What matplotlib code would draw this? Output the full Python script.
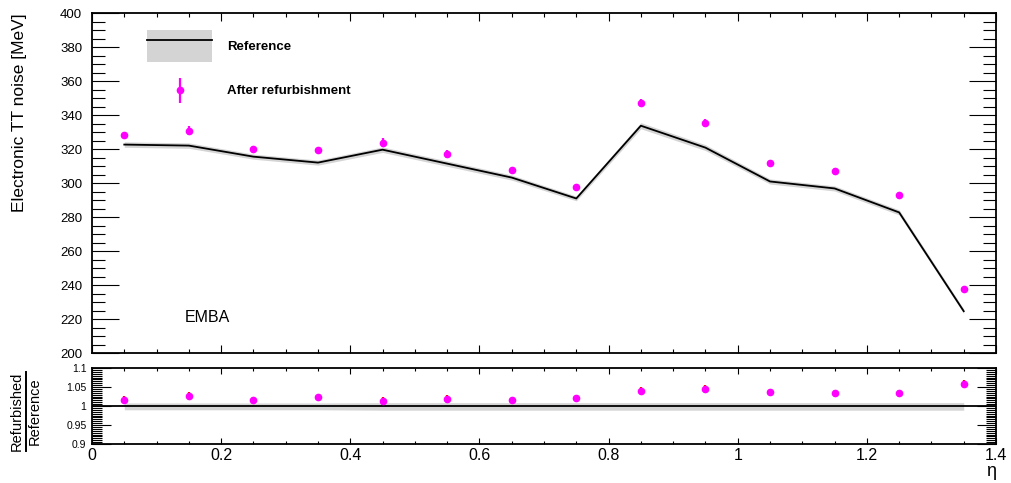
#!/usr/bin/env python3
"""Electronic TT noise vs eta: reference vs after refurbishment, with ratio panel."""
import numpy as np
import matplotlib
matplotlib.use("Agg")
import matplotlib.pyplot as plt
from matplotlib.ticker import MultipleLocator, FixedLocator
from matplotlib.patches import Patch
from matplotlib.lines import Line2D
from matplotlib.legend_handler import HandlerErrorbar

plt.rcParams["font.family"] = ["Liberation Sans", "DejaVu Sans"]

# values
eta = [0.05, 0.15, 0.25, 0.35, 0.45, 0.55, 0.65, 0.75, 0.85, 0.95, 1.05, 1.15, 1.25, 1.35]
ref = [322.6, 322.0, 315.5, 312.0, 319.6, 311.4, 303.2, 290.9, 333.7, 320.8, 300.9, 296.8, 282.7, 224.6]
ref_err = [1.6, 1.6, 1.5, 1.5, 1.6, 1.6, 1.5, 1.4, 1.8, 1.7, 1.5, 1.5, 1.5, 1.3]
after = [328.0, 330.8, 320.2, 319.6, 323.8, 317.3, 307.9, 297.4, 347.2, 335.5, 312.0, 307.3, 292.7, 237.5]
after_err = [2.2, 2.6, 1.0, 1.0, 2.6, 2.4, 1.0, 1.0, 2.4, 2.4, 1.6, 1.6, 1.6, 1.8]
ratio_band = [0.010, 0.010, 0.010, 0.010, 0.011, 0.011, 0.011, 0.011, 0.011, 0.011, 0.011, 0.011, 0.011, 0.011]

eta = np.array(eta)
ref = np.array(ref)
ref_err = np.array(ref_err)
after = np.array(after)
after_err = np.array(after_err)
ratio_band = np.array(ratio_band)
ratio = after / ref
ratio_err = ratio * np.sqrt((after_err / after) ** 2 + (ref_err / ref) ** 2)


class LoweredErrorbar(HandlerErrorbar):
    # put the legend marker level with its label text
    def create_artists(self, legend, orig_handle, xdescent, ydescent, width,
                       height, fontsize, trans):
        return super().create_artists(legend, orig_handle, xdescent, ydescent + 8.6,
                                      width, height, fontsize, trans)


W, H = 1011, 483
fig = plt.figure(figsize=(W / 100, H / 100), dpi=100)
ax = fig.add_axes([92 / W, (H - 353) / H, 904 / W, 340 / H])
ax2 = fig.add_axes([92 / W, (H - 444) / H, 904 / W, 76 / H])

band_col = "#d4d4d4"
mag = "#ff00ff"

# top panel
ax.fill_between(eta, ref - ref_err, ref + ref_err, color=band_col, lw=0)
ax.plot(eta, ref, color="black", lw=1.3)
eb = ax.errorbar(eta, after, yerr=after_err, fmt="o", color=mag, ms=4.5,
                 elinewidth=1.6, capsize=0)
ax.set_xlim(0, 1.4)
ax.set_ylim(200, 400)
ax.set_ylabel("Electronic TT noise [MeV]", fontsize=12.5, loc="top")
ax.yaxis.set_label_coords(-0.072, 1.0)
ax.text(0.103, 0.104, "EMBA", transform=ax.transAxes, fontsize=11.5,
        ha="left", va="center")

ref_handle = (Patch(facecolor=band_col, edgecolor="none"), Line2D([], [], color="black", lw=1.3))
leg = ax.legend([ref_handle, eb], ["Reference", "After refurbishment"],
                loc="upper left", bbox_to_anchor=(0.061, 0.95), frameon=False,
                prop={"weight": "bold", "size": 9.5}, borderpad=0, borderaxespad=0,
                handlelength=4.95, handleheight=3.3, labelspacing=1.0,
                handletextpad=1.1,
                handler_map={type(eb): LoweredErrorbar(yerr_size=0.95)})

# ratio panel
ax2.fill_between(eta, 1 - ratio_band, 1 + ratio_band * 0.8, color=band_col, lw=0)
ax2.axhline(1.0, color="black", lw=1.3)
ax2.errorbar(eta, ratio, yerr=ratio_err, fmt="o", color=mag, ecolor="red",
             ms=4.5, elinewidth=1.6, capsize=0)
ax2.set_xlim(0, 1.4)
ax2.set_ylim(0.9, 1.1)
ax2.set_xlabel("η", fontsize=13, loc="right", labelpad=0)

# ratio axis title drawn as a stacked fraction
fig.text(17 / W, 1 - 411 / H, "Refurbished", fontsize=10.5, rotation=90,
         ha="center", va="center")
fig.text(35 / W, 1 - 411 / H, "Reference", fontsize=10.5, rotation=90,
         ha="center", va="center")
fig.add_artist(Line2D([25.5 / W, 25.5 / W], [1 - 451 / H, 1 - 372 / H],
                      transform=fig.transFigure, color="black", lw=1.4))

# ROOT-like ticks
for a in (ax, ax2):
    a.xaxis.set_major_locator(MultipleLocator(0.2))
    a.xaxis.set_minor_locator(MultipleLocator(0.05))
    a.tick_params(which="both", direction="in", top=True, right=True, width=0.8)
    for s in a.spines.values():
        s.set_linewidth(1.3)

ax.yaxis.set_major_locator(MultipleLocator(20))
ax.yaxis.set_minor_locator(MultipleLocator(5))
ax.tick_params(axis="y", which="major", length=19.5, labelsize=9.5, pad=7)
ax.tick_params(axis="y", which="minor", length=9.5)
ax.tick_params(axis="x", which="major", length=6)
ax.tick_params(axis="x", which="minor", length=3)
ax.tick_params(axis="x", labelbottom=False)

ax2.yaxis.set_major_locator(FixedLocator([0.9, 0.95, 1.0, 1.05, 1.1]))
ax2.yaxis.set_minor_locator(MultipleLocator(0.005))
ax2.set_yticklabels(["0.9", "0.95", "1", "1.05", "1.1"])
ax2.tick_params(axis="y", which="major", length=14, labelsize=7.5, pad=4)
ax2.tick_params(axis="y", which="minor", length=7)
ax2.tick_params(axis="x", which="major", length=4, labelsize=11.5, pad=3)
ax2.tick_params(axis="x", which="minor", length=2)
ax2.set_xticks([0, 0.2, 0.4, 0.6, 0.8, 1.0, 1.2, 1.4])
ax2.set_xticklabels(["0", "0.2", "0.4", "0.6", "0.8", "1", "1.2", "1.4"])

fig.savefig("out.png", dpi=100)
